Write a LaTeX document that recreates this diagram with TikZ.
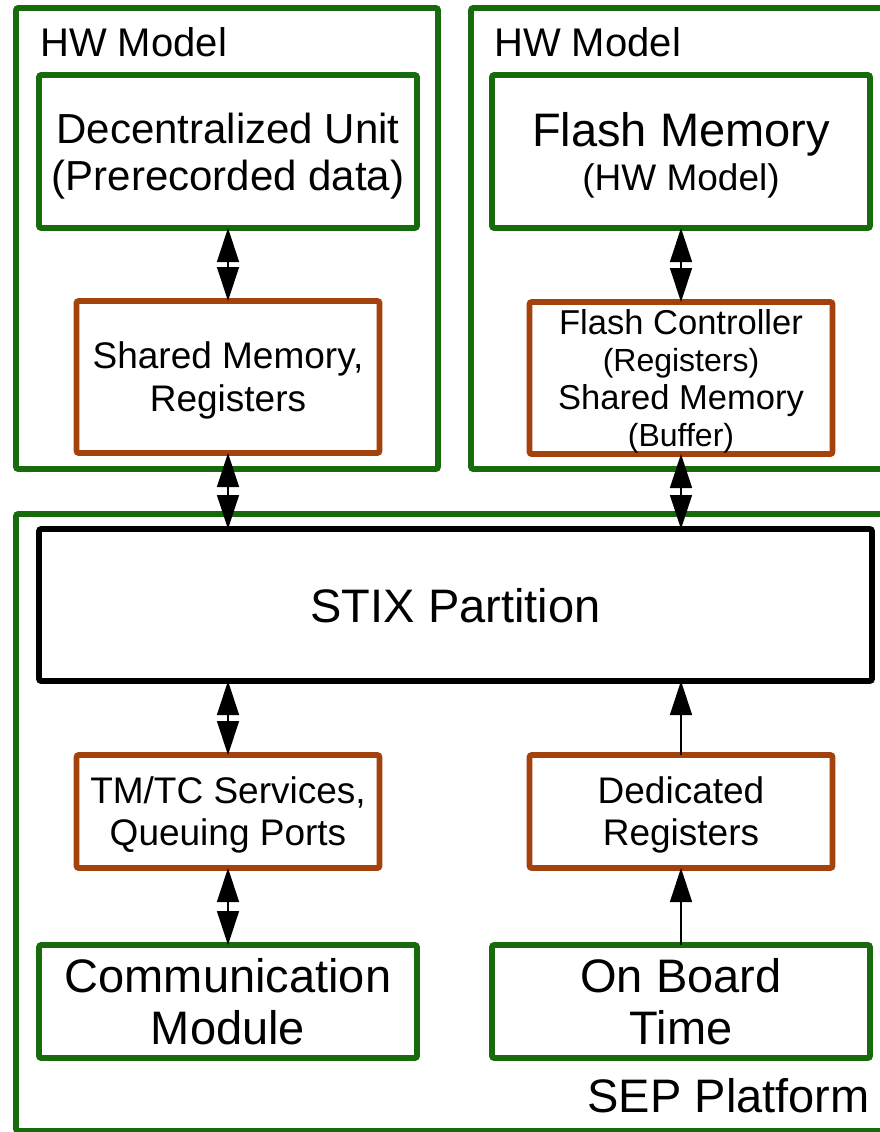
\documentclass[tikz,border=0pt]{standalone}
\usepackage{fontspec}
\setmainfont{Liberation Sans}
\usetikzlibrary{arrows.meta,calc}
\definecolor{grn}{HTML}{186B0C}
\definecolor{org}{HTML}{A4420E}
\begin{document}
\begin{tikzpicture}[x=0.75pt,y=-0.75pt,
  box/.style={draw, line width=4.2pt, rounded corners=1.5pt, outer sep=0pt, inner sep=0pt, align=center, text depth=0pt},
  gbox/.style={box, draw=grn},
  obox/.style={box, draw=org},
  kbox/.style={box, draw=black},
  arr/.style={-{Triangle[length=25.5pt,width=16.5pt]}, line width=1pt},
  lbl/.style={inner sep=0pt, font=\fontsize{30}{36}\selectfont}]
\useasboundingbox (0,0) rectangle (880,1132);
\clip (0,0) rectangle (880,1132);
% containers
\node[gbox, minimum width=316.5pt, minimum height=345.75pt] (hw1) at (227,238.5) {};
\node[gbox, minimum width=325.5pt, minimum height=345.75pt] (hw2) at (688,238.5) {};
\node[gbox, minimum width=666.75pt, minimum height=462.75pt] (sep) at (460.5,822.5) {};
\node[lbl, anchor=base west] (hw1l) at (40,56) {HW Model};
\node[lbl, anchor=base west] (hw2l) at (494,56) {HW Model};
\node[inner sep=0pt, anchor=base east, font=\fontsize{35.25}{40}\selectfont] (sepl) at (870,1112) {SEP Platform};
% boxes
\node[gbox, minimum width=283.5pt, minimum height=114.75pt, font=\fontsize{31.5}{35.25}\selectfont] (dec) at (228,151.5) {Decentralized Unit\\(Prerecorded data)};
\node[obox, minimum width=227.25pt, minimum height=114pt, font=\fontsize{27.75}{32.25}\selectfont] (shm) at (228,377) {Shared Memory,\\Registers};
\node[gbox, minimum width=283.5pt, minimum height=114.75pt, font=\fontsize{27.75}{36}\selectfont, text depth=-3pt] (flash) at (681,151.5) {{\fontsize{35.25}{36}\selectfont Flash Memory}\\[-3pt](HW Model)};
\node[obox, minimum width=227.25pt, minimum height=114pt, font=\fontsize{24}{28.1}\selectfont] (fctl) at (681,378) {{\fontsize{25.9}{28.1}\selectfont Flash Controller}\\(Registers)\\{\fontsize{25.9}{28.1}\selectfont Shared Memory}\\(Buffer)};
\node[kbox, minimum width=624.75pt, minimum height=114pt, font=\fontsize{35.25}{40}\selectfont] (stix) at (455.5,605) {STIX Partition};
\node[obox, minimum width=227.25pt, minimum height=84.75pt, font=\fontsize{27.75}{31.5}\selectfont] (tmtc) at (228,811.5) {TM/TC Services,\\Queuing Ports};
\node[obox, minimum width=227.25pt, minimum height=84.75pt, font=\fontsize{27.75}{31.5}\selectfont] (dedreg) at (681,811.5) {Dedicated\\Registers};
\node[gbox, minimum width=283.5pt, minimum height=84.75pt, font=\fontsize{35.25}{39}\selectfont] (comm) at (228,1001.5) {Communication\\Module};
\node[gbox, minimum width=283.5pt, minimum height=84.75pt, font=\fontsize{35.25}{39}\selectfont] (obt) at (681,1001.5) {On Board\\Time};
% connectors
\coordinate (m1) at ($(dec.south)!0.5!(shm.north)$);
\draw[arr] (m1) -- (dec.south);
\draw[arr] (m1) -- (shm.north);
\coordinate (s1) at (shm.south |- stix.north);
\coordinate (m2) at ($(shm.south)!0.5!(s1)$);
\draw[arr] (m2) -- (shm.south);
\draw[arr] (m2) -- (s1);
\coordinate (m3) at ($(flash.south)!0.5!(fctl.north)$);
\draw[arr] (m3) -- (flash.south);
\draw[arr] (m3) -- (fctl.north);
\coordinate (s2) at (fctl.south |- stix.north);
\coordinate (m4) at ($(fctl.south)!0.5!(s2)$);
\draw[arr] (m4) -- (fctl.south);
\draw[arr] (m4) -- (s2);
\coordinate (s3) at (tmtc.north |- stix.south);
\coordinate (m5) at ($(tmtc.north)!0.5!(s3)$);
\draw[arr] (m5) -- (s3);
\draw[arr] (m5) -- (tmtc.north);
\coordinate (m6) at ($(tmtc.south)!0.5!(comm.north)$);
\draw[arr] (m6) -- (tmtc.south);
\draw[arr] (m6) -- (comm.north);
\coordinate (s4) at (dedreg.north |- stix.south);
\draw[arr] (dedreg.north) -- (s4);
\draw[arr] (obt.north) -- (dedreg.south);
\end{tikzpicture}
\end{document}
